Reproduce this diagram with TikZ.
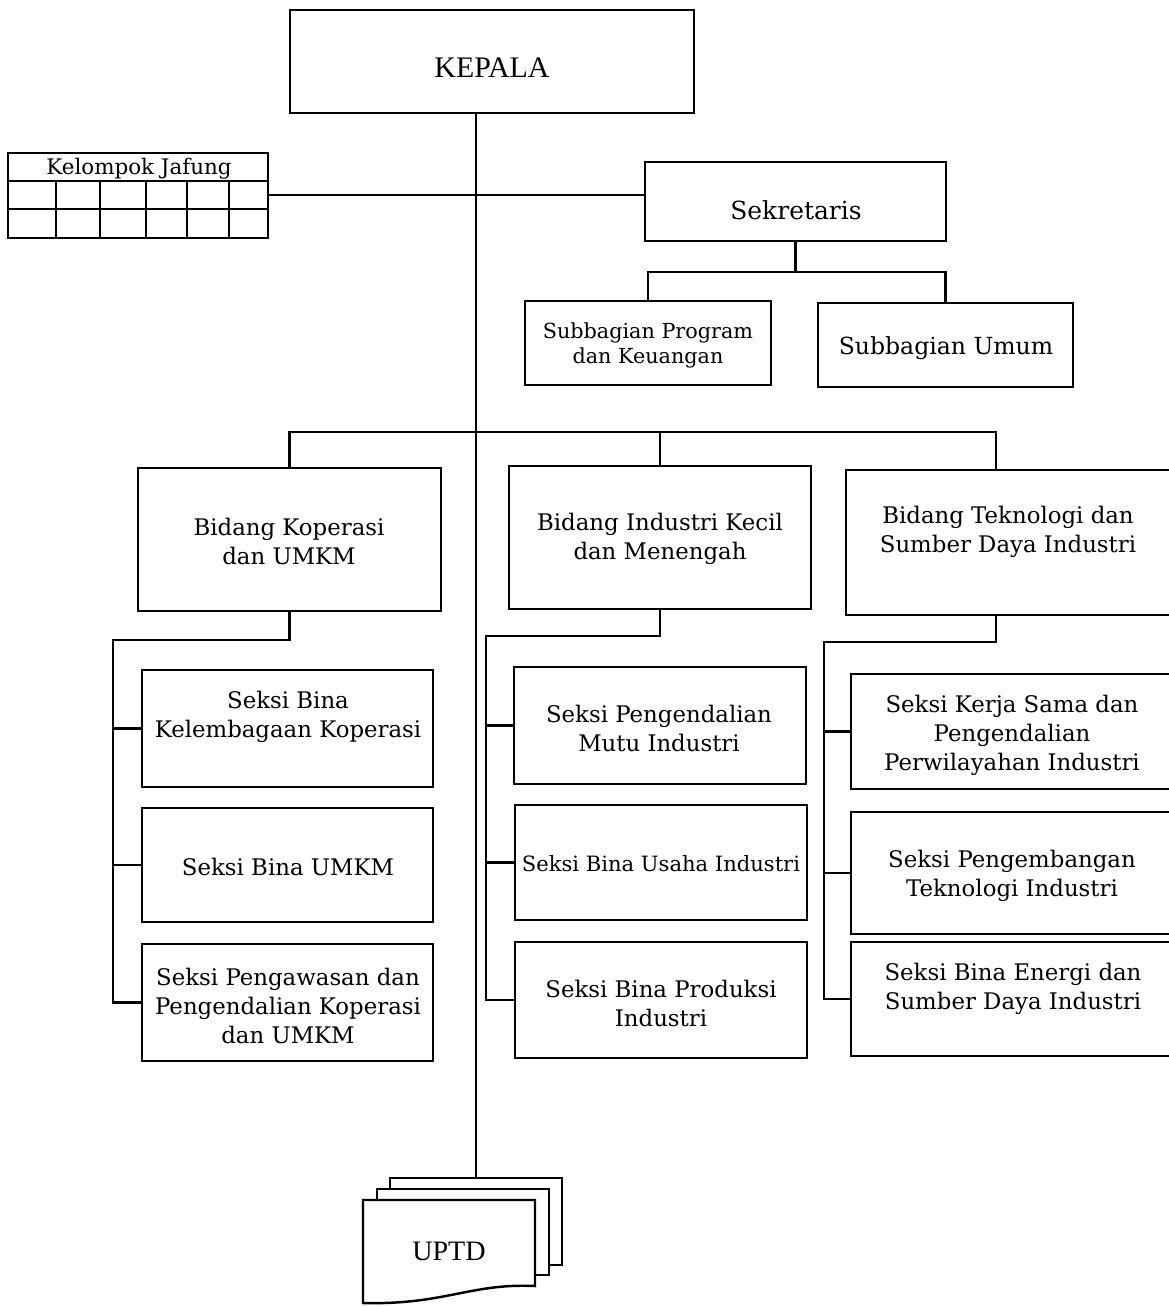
\documentclass[tikz,border=0pt]{standalone}
\usepackage{fontspec}
\setmainfont{DejaVu Serif}
\newfontfamily\tms{Liberation Serif}
\newcommand\bx[9][]{%
  \node[draw, inner sep=0pt, minimum width={(#4-#2)*0.02cm}, minimum height={(#5-#3)*0.02cm}] (#6) at ({(#2+#4)/2},{(#3+#5)/2}) {};
  \node[txt,#1] (#6-t) at (#7,#8) {#9};}
\begin{document}
\begin{tikzpicture}[x=0.02cm,y=-0.02cm, line width=1.4pt,
  txt/.style={inner sep=0pt, align=center, font=\fontsize{13}{16.5}\selectfont},
  sheet/.style={draw, fill=white}]
\clip (0,0) rectangle (1169,1306);
\fill[white] (0,0) rectangle (1169,1306);
% top
\bx[font={\tms\fontsize{17}{20}\selectfont}]{290}{10}{694}{113}{kepala}{492}{68}{KEPALA}
\bx[font=\fontsize{14.2}{16}\selectfont]{645}{162}{946}{241}{sek}{796}{210}{Sekretaris}
\bx[font=\fontsize{11.8}{14.2}\selectfont]{525}{301}{771}{385}{spk}{648}{345}{Subbagian Program\\dan Keuangan}
\bx[font=\fontsize{13.4}{16}\selectfont]{818}{303}{1073}{387}{um}{946}{348}{Subbagian Umum}
% jafung table
\bx[font=\fontsize{12.2}{14}\selectfont]{8}{153}{268}{238}{jaf}{139}{169}{Kelompok Jafung}
\draw (jaf.west |- 0,181) -- (jaf.east |- 0,181);
\draw (jaf.west |- 0,209) -- (jaf.east |- 0,209);
\foreach \xx in {56,100,146,187,229} \draw (\xx,181) -- (\xx,238);
% bidang
\bx{138}{468}{441}{611}{bk}{289}{541}{Bidang Koperasi\\dan UMKM}
\bx{509}{466}{811}{609}{bi}{660}{539}{Bidang Industri Kecil\\dan Menengah}
\bx{846}{470}{1172}{615}{bt}{1008}{532}{Bidang Teknologi dan\\Sumber Daya Industri}
% seksi koperasi
\bx{142}{670}{433}{787}{k1}{288}{717}{Seksi Bina\\Kelembagaan Koperasi}
\bx{142}{808}{433}{922}{k2}{288}{867}{Seksi Bina UMKM}
\bx{142}{944}{433}{1061}{k3}{288}{1006}{Seksi Pengawasan dan\\Pengendalian Koperasi\\dan UMKM}
% seksi industri
\bx{514}{667}{806}{784}{i1}{659}{728}{Seksi Pengendalian\\Mutu Industri}
\bx[font=\fontsize{12}{14}\selectfont]{515}{805}{807}{920}{i2}{661}{864}{Seksi Bina Usaha Industri}
\bx{515}{942}{807}{1058}{i3}{661}{1003}{Seksi Bina Produksi\\Industri}
% seksi teknologi
\bx{851}{674}{1175}{789}{t1}{1012}{735}{Seksi Kerja Sama dan\\Pengendalian\\Perwilayahan Industri}
\bx{851}{812}{1175}{934}{t2}{1012}{876}{Seksi Pengembangan\\Teknologi Industri}
\bx{851}{942}{1175}{1056}{t3}{1013}{989}{Seksi Bina Energi dan\\Sumber Daya Industri}
% UPTD
\draw[sheet] (390,1178) rectangle (562,1265);
\draw[sheet] (377,1189) rectangle (549,1275);
\draw[sheet] (363,1200) -- (535,1200) -- (535,1286) .. controls (470,1283) and (445,1305) .. (363,1303) -- cycle;
\node[font={\tms\fontsize{16}{18}\selectfont}] (uptd) at (449,1251) {UPTD};
\coordinate (uptdtop) at (476,1178);
% connectors
\coordinate (sp) at (476,0);
\draw (sp |- kepala.south) -- (uptdtop);
\draw (jaf.east |- 0,195) -- (sek.west |- 0,195);
\coordinate (sb) at (0,272);
\draw (sek.south) -- (sek.south |- sb);
\draw (spk.north) -- (spk.north |- sb) -- (um.north |- sb) -- (um.north);
\coordinate (btx) at (996,0);
\draw (bk.north) -- (bk.north |- 0,432) -- (btx |- 0,432) -- (btx |- bt.north);
\draw (bi.north) -- (bi.north |- 0,432);
% koperasi bus
\coordinate (kb) at (113,640);
\draw (bk.south) -- (bk.south |- kb) -- (kb) -- (kb |- k3.west) -- (k3.west);
\draw (kb |- k1.west) -- (k1.west);
\draw (kb |- k2.west) -- (k2.west);
% industri bus
\coordinate (ib) at (486,636);
\draw (bi.south) -- (bi.south |- ib) -- (ib) -- (ib |- i3.west) -- (i3.west);
\draw (ib |- i1.west) -- (i1.west);
\draw (ib |- i2.west) -- (i2.west);
% teknologi bus
\coordinate (tb) at (824,642);
\draw (btx |- bt.south) -- (btx |- tb) -- (tb) -- (tb |- t3.west) -- (t3.west);
\draw (tb |- t1.west) -- (t1.west);
\draw (tb |- t2.west) -- (t2.west);
\end{tikzpicture}
\end{document}
